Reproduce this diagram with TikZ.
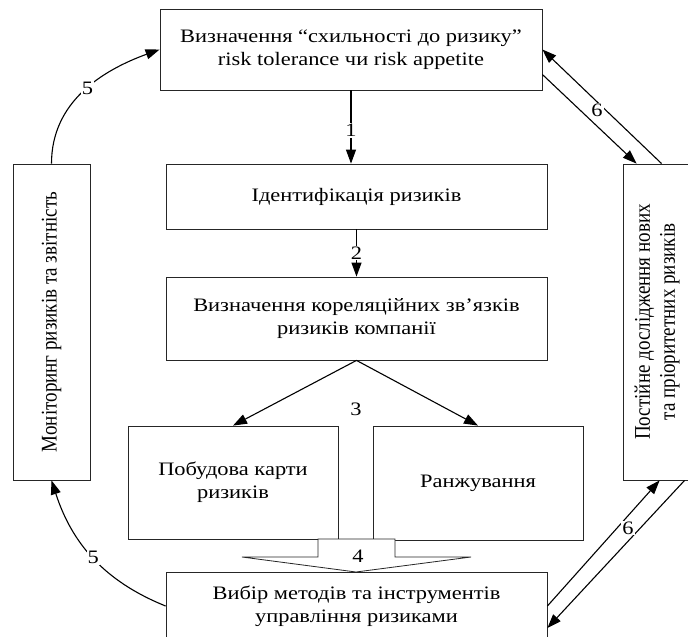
\documentclass[tikz,border=0pt]{standalone}
\usepackage{fontspec}
\setmainfont{Liberation Serif}[FakeStretch=1.18]
\newfontfamily\rotfont{Liberation Serif}[FakeStretch=0.85]
\usetikzlibrary{arrows.meta,calc}
\begin{document}
\begin{tikzpicture}[x=1pt,y=-1pt,
  txt/.style={font=\fontsize{19}{23}\selectfont, align=center},
  rtxt/.style={font=\rotfont\fontsize{22.4}{25}\selectfont, align=center, rotate=90},
  box/.style={draw=black!85, line width=0.8pt, fill=white, inner sep=0pt, txt},
  arr/.style={draw=black, line width=1.1pt, -{Triangle[length=14pt,width=10pt]}},
  lbl/.style={font=\fontsize{19}{23}\selectfont, fill=white, inner sep=1pt},
  lbln/.style={font=\fontsize{19}{23}\selectfont, inner sep=1pt}]
\useasboundingbox (0,0) rectangle (688,637);

\node[box, minimum width=382pt, minimum height=81pt] (top) at (351,49.5)
  {Визначення “схильності до ризику”\\risk tolerance чи risk appetite};
\node[box, minimum width=381pt, minimum height=65pt] (ident) at (356.5,196.5)
  {Ідентифікація ризиків};
\node[box, minimum width=381pt, minimum height=83pt] (corr) at (356.5,318.5)
  {Визначення кореляційних зв’язків\\ризиків компанії};
\node[box, minimum width=210pt, minimum height=113pt] (map) at (233,482.5)
  {Побудова карти\\ризиків};
\node[box, minimum width=210pt, minimum height=114pt] (rank) at (478,483)
  {Ранжування};
\node[box, minimum width=381pt, minimum height=68pt] (bot) at (356.5,606)
  {Вибір методів та інструментів\\управління ризиками};
\node[box, minimum width=77pt, minimum height=316pt] (mon) at (51.5,322) {};
\node[rtxt] (montext) at (mon.center) {Моніторинг ризиків та звітність};
\node[box, minimum width=68pt, minimum height=316pt] (rt) at (657,322) {};
\node[rtxt] (rttext) at (rt.center) {Постійне дослідження нових\\та пріоритетних ризиків};

% arrow 1
\draw[arr] (top.south) -- (ident.north -| top.south)
  node[lbl, pos=0.55] (l1) {1};
% arrow 2
\draw[arr] (ident.south) -- (corr.north)
  node[lbl, pos=0.5] (l2) {2};
% arrows 3
\draw[arr] (corr.south) -- (map.north);
\draw[arr] (corr.south) -- (rank.north);
\node[lbln] (l3) at (356,409) {3};
% block arrow 4
\draw[draw=black!85, line width=0.8pt, fill=white]
  (318,539) -- (318,557) -- (242,557) -- (356,572) -- (471,557) -- (395,557) -- (395,539) -- cycle;
\node[lbln] (l4) at (358,556) {4};
% arrows 5
\draw[arr] (mon.north) to[out=90, in=200] node[lbl, pos=0.53] (l5a) {5} (top.west);
\draw[arr] (bot.west) to[out=158, in=-72] node[lbl, pos=0.5] (l5b) {5} (mon.south);
% arrows 6 top
\draw[arr] ($(rt.north west)+(39,0)$) -- (top.east);
\draw[arr] ($(top.east)+(0,25)$) -- ($(rt.north west)+(14,0)$);
\node[lbl] (l6a) at (597,110) {6};
% arrows 6 bottom
\draw[arr] (bot.east) -- ($(rt.south west)+(37,0)$);
\draw[arr] ($(rt.south west)+(62,0)$) -- ($(bot.east)+(0,22)$);
\node[lbl] (l6b) at (628,528) {6};
\end{tikzpicture}
\end{document}
